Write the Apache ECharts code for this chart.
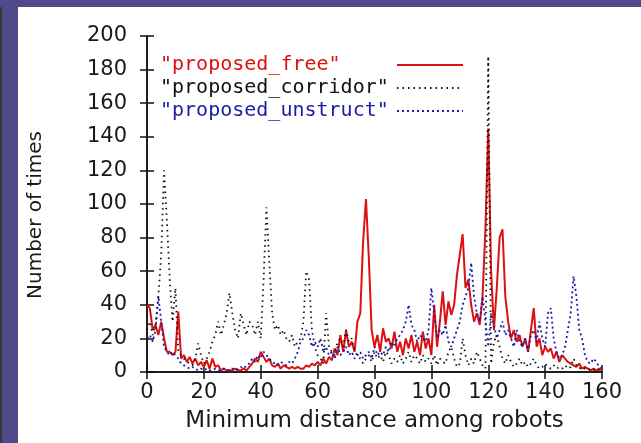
<!DOCTYPE html>
<html>
<head>
<meta charset="utf-8">
<title>Minimum distance among robots</title>
<script src="https://cdn.jsdelivr.net/npm/echarts/dist/echarts.min.js"></script>
<style>
  html, body { margin: 0; padding: 0; width: 641px; height: 443px; overflow: hidden; background: #504a8b; }
  #edge { position: absolute; left: 0; top: 7px; width: 2px; height: 436px; background: #3a3a3a; }
  #distChart { position: absolute; left: 18px; top: 7px; width: 623px; height: 436px; background: #fff; }
</style>
</head>
<body>
<div id="edge"></div>
<div id="distChart"></div>
<script>
// x positions: one bin per unit of distance
const distance = Array.from({ length: 161 }, (_, i) => i);
const xTicks = [0, 20, 40, 60, 80, 100, 120, 140, 160];
const yTicks = [0, 20, 40, 60, 80, 100, 120, 140, 160, 180, 200];
const seriesNames = ['proposed_free', 'proposed_corridor', 'proposed_unstruct'];

// values, x = 0 .. 160
const proposedFree = [
  40, 38, 25, 28, 22, 30, 20, 12, 12, 10,
  12, 36, 8, 10, 6, 9, 5, 8, 4, 6,
  3, 7, 2, 8, 3, 4, 1, 2, 1, 1,
  1, 2, 1, 1, 2, 1, 3, 5, 8, 6,
  12, 9, 6, 8, 4, 3, 5, 2, 4, 3,
  2, 3, 2, 3, 2, 2, 4, 3, 5, 4,
  6, 4, 8, 5, 9, 7, 14, 10, 22, 12,
  25, 15, 18, 12, 30, 35, 78, 103, 68, 25,
  15, 22, 12, 26, 18, 20, 14, 24, 12, 18,
  10, 20, 14, 22, 12, 18, 10, 24, 14, 20,
  10, 40, 15, 30, 48, 28, 42, 34, 40, 58,
  70, 82, 50, 55, 40, 30, 35, 28, 45, 85,
  145, 60, 25, 50, 80, 85, 45, 30, 20, 25,
  18, 22, 15, 20, 12, 25, 38, 15, 20, 10,
  15, 12, 14, 8, 12, 6, 10, 8, 6, 5,
  4, 3, 5, 2, 3, 2, 1, 2, 1, 2, 1
];
const proposedCorridor = [
  25, 30, 22, 28, 45, 70, 120, 90, 55, 30,
  50, 12, 10, 8, 6, 5, 4, 8, 17, 10,
  5, 8, 12, 18, 22, 30, 22, 28, 35, 47,
  35, 25, 20, 35, 28, 22, 30, 28, 22, 30,
  20, 55, 98, 65, 35, 25, 28, 22, 25, 20,
  18, 22, 15, 18, 20, 30, 60, 55, 25, 15,
  10, 8, 5, 35, 15, 12, 10, 18, 20, 15,
  25, 18, 20, 12, 10, 8, 5, 8, 10, 6,
  12, 8, 10, 6, 12, 10, 5, 8, 6, 10,
  5, 8, 12, 6, 10, 8, 5, 10, 6, 8,
  5, 10, 4, 8, 6, 5, 12, 15, 8, 3,
  5, 20, 10, 4, 8, 5, 12, 8, 4, 2,
  188, 5, 18, 22, 15, 8, 5, 10, 6, 3,
  5, 8, 4, 6, 3, 5, 8, 4, 2, 3,
  5, 3, 2, 4, 2, 3, 2, 4, 2, 3,
  8, 4, 2, 3, 2, 1, 2, 1, 2, 1, 0
];
const proposedUnstruct = [
  20, 22, 18, 25, 45, 30, 15, 12, 10, 12,
  10, 8, 5, 4, 3, 2, 3, 2, 1, 2,
  1, 2, 1, 1, 2, 1, 1, 2, 1, 1,
  2, 1, 2, 3, 2, 4, 5, 8, 6, 10,
  8, 12, 10, 8, 6, 5, 4, 6, 5, 4,
  6, 5, 8, 12, 18, 20, 25, 22, 15, 18,
  15, 20, 12, 15, 10, 12, 8, 15, 10, 12,
  15, 10, 12, 8, 10, 12, 8, 10, 12, 8,
  15, 10, 12, 10, 15, 12, 18, 15, 20, 22,
  25, 30, 40, 28, 25, 18, 22, 20, 18, 25,
  50, 35, 20, 25, 22, 28, 18, 15, 20, 25,
  30, 40, 45, 50, 65, 45, 35, 30, 45, 30,
  15, 35, 28, 20, 25, 30, 22, 25, 20, 15,
  25, 18, 15, 20, 12, 22, 25, 18, 30, 20,
  15, 35, 38, 20, 12, 8, 10, 15, 25, 35,
  57, 45, 25, 20, 10, 6, 5, 8, 6, 3, 2
];

const chartDom = document.getElementById('distChart');
const distChart = echarts.init(chartDom, null, { renderer: 'canvas' });

function pairs(values) {
  return distance.map(function (d, i) { return [d, values[i]]; });
}

const font = 'DejaVu Sans';
const axisBlack = { show: true, lineStyle: { color: '#111', width: 1.5 } };

function valueAxis(ticks, pos, withLabels) {
  return {
    type: 'value',
    position: pos,
    min: ticks[0],
    max: ticks[ticks.length - 1],
    interval: ticks[1] - ticks[0],
    axisLine: axisBlack,
    axisTick: { show: true, inside: true, length: 7, lineStyle: { color: '#111', width: 1.5 } },
    axisLabel: { show: withLabels },
    splitLine: { show: false }
  };
}

const xBottom = valueAxis(xTicks, 'bottom', true);
xBottom.axisLabel = { show: true, margin: 10, color: '#1a1a1a', fontFamily: font, fontSize: 21 };
xBottom.name = 'Minimum distance among robots';
xBottom.nameLocation = 'middle';
xBottom.nameGap = 38;
xBottom.nameTextStyle = { color: '#1a1a1a', fontFamily: font, fontSize: 23 };

const yLeft = valueAxis(yTicks, 'left', true);
yLeft.axisLabel = { show: true, margin: 20, color: '#1a1a1a', fontFamily: font, fontSize: 21 };
yLeft.name = 'Number of times';
yLeft.nameLocation = 'middle';
yLeft.nameGap = 101;
yLeft.nameTextStyle = { color: '#1a1a1a', fontFamily: font, fontSize: 20, padding: [0, 0, 0, -22] };

const lineColors = ['#dd1111', '#111111', '#1c1ca6'];
const lineTypes = ['solid', [1.5, 4], [2, 3]];
const seriesValues = [proposedFree, proposedCorridor, proposedUnstruct];

option = {
  animation: false,
  grid: { left: 125, top: 29, right: 39, bottom: 71 },
  xAxis: [xBottom, valueAxis(xTicks, 'top', false)],
  yAxis: [yLeft, valueAxis(yTicks, 'right', false)],
  legend: {
    orient: 'vertical',
    left: 137,
    top: 42,
    align: 'right',
    itemGap: 1,
    itemWidth: 66,
    itemHeight: 12,
    selectedMode: false,
    itemStyle: { opacity: 0, borderWidth: 0 },
    formatter: function (name) { return '{t|"' + name + '"}'; },
    textStyle: {
      fontFamily: 'DejaVu Sans Mono',
      fontSize: 20,
      lineHeight: 22,
      rich: { t: { width: 232, align: 'left', fontFamily: 'DejaVu Sans Mono', fontSize: 20, lineHeight: 22 } }
    },
    data: seriesNames.map(function (n, i) {
      return { name: n, textStyle: { color: lineColors[i] } };
    })
  },
  series: seriesNames.map(function (n, i) {
    return {
      name: n,
      type: 'line',
      xAxisIndex: 0,
      yAxisIndex: 0,
      symbol: 'none',
      color: lineColors[i],
      lineStyle: { color: lineColors[i], width: i === 0 ? 2 : 1.8, type: lineTypes[i] },
      data: pairs(seriesValues[i])
    };
  })
};

distChart.setOption(option);
</script>
</body>
</html>
